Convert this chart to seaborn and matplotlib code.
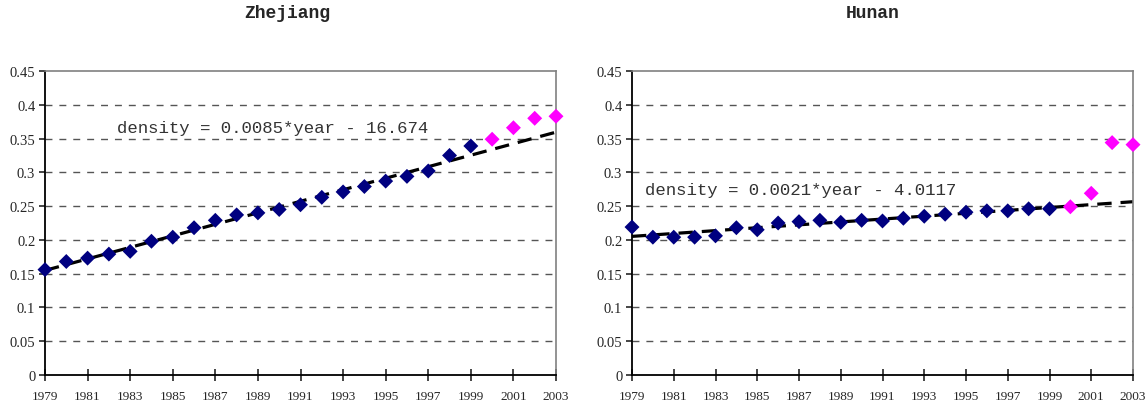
import numpy as np
import pandas as pd
import matplotlib
matplotlib.use('Agg')
import matplotlib.pyplot as plt
import seaborn as sns

years = list(range(1979, 2004))

# population density, blue = fitted period (1979-1999), magenta = 2000-2003
zhejiang = [0.156, 0.168, 0.173, 0.179, 0.183, 0.198, 0.204, 0.218, 0.229, 0.237,
            0.240, 0.245, 0.252, 0.263, 0.271, 0.279, 0.287, 0.294, 0.302, 0.325,
            0.339, 0.349, 0.366, 0.380, 0.383]
hunan = [0.219, 0.204, 0.204, 0.204, 0.206, 0.218, 0.215, 0.225, 0.227, 0.229,
         0.226, 0.229, 0.228, 0.232, 0.235, 0.238, 0.241, 0.243, 0.243, 0.246,
         0.246, 0.249, 0.269, 0.344, 0.341]

titles = ['Zhejiang', 'Hunan']
equations = ['density = 0.0085*year - 16.674', 'density = 0.0021*year - 4.0117']
eq_pos = [(1982.4, 0.367), (1979.6, 0.275)]
fit_end = 1999

sns.set_style('white')
plt.rcParams['font.family'] = ['Liberation Serif', 'DejaVu Serif']

fig = plt.figure(figsize=(11.46, 4.14), dpi=100)
axes = [fig.add_axes([45/1146, 38/414, 511/1146, 304/414]),
        fig.add_axes([632/1146, 38/414, 501/1146, 304/414])]
title_x = [287/1146, 873/1146]

for ax, vals, title, eq, pos, tx in zip(axes, [zhejiang, hunan], titles, equations, eq_pos, title_x):
    df = pd.DataFrame({'year': years, 'density': vals})
    df['period'] = np.where(df['year'] <= fit_end, 'fit', 'later')
    fit_df = df[df['period'] == 'fit']

    ax.set_xlim(1979, 2003)
    ax.set_ylim(0, 0.45)
    ax.set_yticks(np.arange(0, 0.451, 0.05))
    ax.set_yticklabels(['0', '0.05', '0.1', '0.15', '0.2', '0.25', '0.3', '0.35', '0.4', '0.45'])
    ax.set_xticks(range(1979, 2004, 2))
    for yv in np.arange(0.05, 0.41, 0.05):
        ax.axhline(yv, color='#555555', lw=1, ls=(0, (5, 5)), zorder=0)

    sns.regplot(data=fit_df, x='year', y='density', ax=ax, scatter=False, ci=None,
                truncate=False, color='black',
                line_kws={'lw': 2.3, 'ls': (0, (4.5, 2.8)), 'zorder': 2})
    sns.scatterplot(data=df, x='year', y='density', hue='period',
                    palette={'fit': '#000080', 'later': '#FF00FF'},
                    marker='D', s=58, edgecolor='none', ax=ax, legend=False,
                    zorder=3, clip_on=False)

    ax.set_xlim(1979, 2003)
    ax.set_xlabel('')
    ax.set_ylabel('')
    ax.text(pos[0], pos[1], eq, fontsize=12.5, color='#333333',
            family='Liberation Mono', va='center', ha='left')

    for side in ['top', 'right']:
        ax.spines[side].set_color('#808080')
        ax.spines[side].set_linewidth(1.2)
    for side in ['left', 'bottom']:
        ax.spines[side].set_color('black')
        ax.spines[side].set_linewidth(1.3)
    ax.tick_params(axis='x', direction='inout', length=9, width=1.2, labelsize=9.5, pad=6)
    ax.tick_params(axis='y', direction='out', length=4, width=1.2, labelsize=10.5, pad=3, left=True)
    ax.tick_params(axis='x', bottom=True)

    fig.text(tx, 1 - 14/414, title, ha='center', va='center', fontsize=13,
             fontweight='bold', family='Liberation Mono')

fig.savefig('out.png', dpi=100)
